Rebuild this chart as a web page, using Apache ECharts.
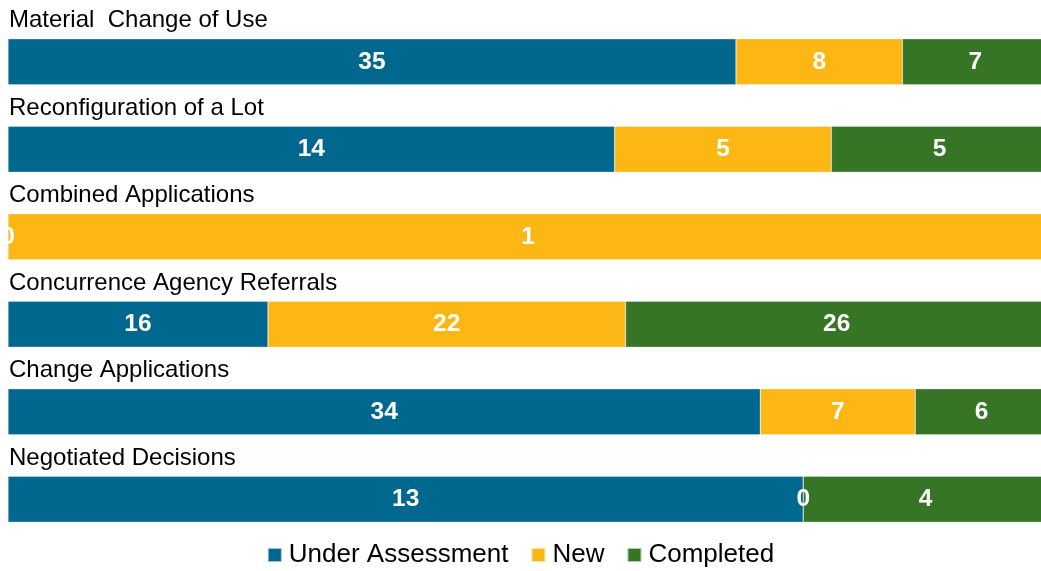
<!DOCTYPE html>
<html>
<head>
<meta charset="utf-8">
<script src="https://cdn.jsdelivr.net/npm/echarts@6/dist/echarts.min.js"></script>
<style>
html,body{margin:0;padding:0;background:#fff;}
#chartDIV{width:1041px;height:571px;}
</style>
</head>
<body>
<div id="chartDIV"></div>
<script>
var categories = ['Material  Change of Use', 'Reconfiguration of a Lot', 'Combined Applications',
    'Concurrence Agency Referrals', 'Change Applications', 'Negotiated Decisions'];
var underAssessment = [35, 14, 0, 16, 34, 13];
var newApps = [8, 5, 1, 22, 7, 0];
var completed = [7, 5, 0, 26, 6, 4];

var totals = categories.map(function (c, i) {
    return underAssessment[i] + newApps[i] + completed[i];
});
function pct(arr) {
    return arr.map(function (v, i) {
        return { value: totals[i] ? v / totals[i] * 100 : 0, raw: v };
    });
}

var myChart = echarts.init(document.getElementById('chartDIV'));

var labelStyle = {
    show: true,
    position: 'inside',
    color: '#fff',
    fontSize: 24.5,
    fontWeight: 'bold',
    fontFamily: 'Liberation Sans, Arial, sans-serif',
    formatter: function (p) { return p.data.raw; }
};

function makeSeries(name, arr, color) {
    return {
        name: name,
        type: 'bar',
        stack: 'total',
        barWidth: 46,
        clip: false,
        data: pct(arr),
        itemStyle: { color: color, borderColor: 'rgba(255,255,255,0.6)', borderWidth: 0.5 },
        label: labelStyle,
        emphasis: { disabled: true }
    };
}

// the bars run a few pixels past the right edge in the original
var option = {
    animation: false,
    textStyle: { fontFamily: 'Liberation Sans, Arial, sans-serif' },
    grid: {
        left: 8,
        right: 0,
        top: 18,
        bottom: 28
    },
    legend: {
        bottom: -2,
        left: 'center',
        itemWidth: 14,
        itemHeight: 14,
        itemGap: 22,
        icon: 'rect',
        textStyle: { fontSize: 26, color: '#000', padding: [0, 0, 0, 2] },
        data: ['Under Assessment', 'New', 'Completed']
    },
    xAxis: {
        type: 'value',
        min: 0,
        max: 100 * 1033 / 1040,
        show: false
    },
    yAxis: {
        type: 'category',
        inverse: true,
        data: categories,
        axisLine: { show: false },
        axisTick: { show: false },
        axisLabel: {
            inside: true,
            margin: 1,
            color: '#000',
            fontSize: 24,
            verticalAlign: 'bottom',
            padding: [0, 0, 29, 0]
        }
    },
    series: [
        makeSeries('Under Assessment', underAssessment, '#00678F'),
        makeSeries('New', newApps, '#FDB714'),
        makeSeries('Completed', completed, '#367526')
    ]
};

myChart.setOption(option);
</script>
</body>
</html>
